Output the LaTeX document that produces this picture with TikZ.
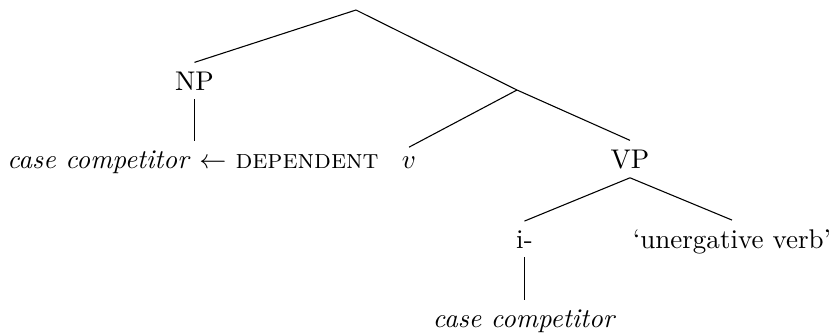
\documentclass[tikz,border=0pt]{standalone}
\begin{document}
\begin{tikzpicture}[x=0.37pt,y=-0.37pt,
  lab/.style={anchor=base,inner sep=3.2pt},
  br/.style={draw=black,line width=0.4pt}]
\useasboundingbox (0,0) rectangle (830,335);
\coordinate (root) at (356,10);
\coordinate (j) at (517,90);
\node[lab] (np) at (194.5,90) {NP};
\node[lab] (leaf1) at (193,168) {\textit{case competitor} $\leftarrow$ \textsc{dependent}};
\node[lab] (v) at (409,168) {$v$};
\node[lab] (vp) at (630,168) {VP};
\node[lab] (i) at (524.5,248) {i-};
\node[lab] (uv) at (732,248) {`unergative verb'};
\node[lab] (leaf2) at (524.5,327) {\textit{case competitor}};
\draw[br] (root) -- (np.north);
\draw[br] (root) -- (j);
\draw[br] (np.south) -- (leaf1.north -| np.south);
\draw[br] (j) -- (v.north);
\draw[br] (j) -- (vp.north);
\draw[br] (vp.south) -- (i.north);
\draw[br] (vp.south) -- (uv.north);
\draw[br] (i.south) -- (leaf2.north);
\end{tikzpicture}
\end{document}
